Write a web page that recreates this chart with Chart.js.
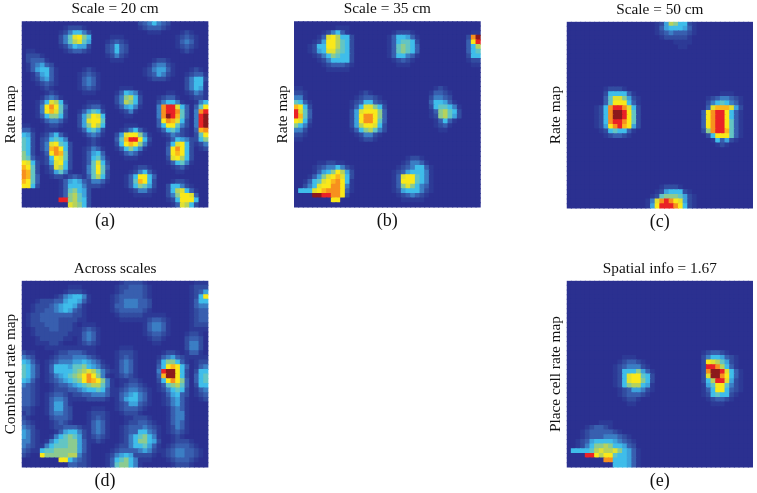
<!DOCTYPE html>
<html><head><meta charset="utf-8">
<script src="https://cdn.jsdelivr.net/npm/chart.js@4"></script>
<style>
html,body{margin:0;padding:0;background:#fff;overflow:hidden}
#wrap{position:relative;width:757px;height:493px;overflow:hidden}
canvas{position:absolute;filter:blur(0.7px)}
</style></head><body><div id="wrap"></div>
<script>
// Firing-rate levels 0..f, per patch: [first column, first row, rows of levels]
const levelColors = ["#2b3090","#2d3a96","#324ca0","#385faf","#3b7ec4","#3ca2dc","#3fbdea","#63c5c4","#8ccb90","#b6d25c","#e0e032","#f9e81a","#fbb61c","#f7901e","#ea2226","#8c1a1c"];
const panelTitles = ["Scale = 20 cm","Scale = 35 cm","Scale = 50 cm","Across scales","Spatial info = 1.67"];
const panelYLabels = ["Rate map","Rate map","Rate map","Combined rate map","Place cell rate map"];
const panelTags = ["(a)","(b)","(c)","(d)","(e)"];
const gridSize = 40;

const mapA = [
[8,1,["0122210","1246642","247ab86","2479a75","1246552","0123321"]],
[18,3,["01110","12321","23632","23632","12421","01110"]],
[25,0,["2346432","1233321","0011100"]],
[33,2,["01210","12321","13431","12321","01210"]],
[1,6,["1100000","2221000","2333100","1345320","1356631","0135631","0124531","0012321","0001210"]],
[12,10,["01210","12321","13431","13431","12321","01110"]],
[26,8,["0012210","0134421","1245531","1235421","0122210"]],
[35,10,["01210","12331","24662","24661","24651","12431","01210"]],
[3,15,["0012100","0134310","136a961","14bdb73","14bca72","1368862","0134431","0012210"]],
[19,14,["0011100","0136541","0248962","0249862","0135641","0012410","0001100"]],
[12,17,["001110","012331","135762","258ba6","25abb7","258b96","136752","013431","001210"]],
[28,15,["00011000","01233100","02466410","04deea63","04deed73","04dfec73","03bdca62","036bb742","01367521","00124310","00012100"]],
[36,16,["0121","0146","037b","04de","04ef","04ef","04ef","03cd","027b","0268","0124","0012"]],
[19,22,["000111000","001246310","025abb841","037ceeb62","026bcb841","013686410","001343100","000111000"]],
[3,23,["00111000","01246310","02367640","024ab762","024cdb62","013bdc72","0126ba72","0125ab62","0013a962","00125741","00012210"]],
[12,26,["0012100","0124310","0135630","0136741","0137a62","0147b73","0147b72","0137962","0124431","0012210"]],
[30,24,["0012210","0136542","026ab62","03bdb62","03bcb62","02ab962","0136741","0012310","0001100"]],
[0,22,["1100","3310","6520","7620","7620","7620","8620","8731","ba62","cb72","dc72","dc73","cb73","bb62"]],
[22,31,["0012210","0124631","136bb63","137cb62","1368752","0124421","0011110"]],
[8,33,["0123210","1356531","1366642","1378652","1389752","ee89762","00a9862"]],
[30,34,["00122100","02664210","0269a631","0248bba3","0126bbb6","0013a962"]]
];

const mapB = [
[3,1,["00000011100","00012463100","0013ab96620","0125bb97620","1266bb97620","1256aa87620","01246876620","00124666620","00012333210","00001111100"]],
[20,2,["0122210","1366531","1367762","1378763","1378763","1366431","0123210","0011100"]],
[37,2,["011","2df","3be","369","367","266","122","011"]],
[0,14,["1100","2210","4410","7631","cb62","ea73","ec73","ba62","8641","4420","2210","1100"]],
[11,15,["000121000","001233210","012366321","0136aa862","025abbb83","025bddb83","025bddb73","0259bba62","013689742","001244210","000122100"]],
[28,14,["00121000","01332100","02443200","03665310","02677641","01389762","01289752","00136310","00123100","00011000"]],
[1,30,["000011221100","000123446421","00013568b952","001358abca62","01367abcdb61","0246abbddb41","666abcdddb31","000ffeeddb20","0000000bb000"]],
[20,29,["0000122100","0001244310","0012346631","0123566641","013abb7641","013bbb7641","0138a86431","0125666421","0012343210","0001111100"]]
];

const mapC = [
[18,0,["0125986621","0135666531","0123433321","0012222210","0000011110","0000001100"]],
[5,14,["00012221000","00026666310","00037aa8521","00037bbb631","0126deeda62","0126dffeb72","0126dffeb72","0126deedb72","0125bdecb52","00126766310","00012332100"]],
[29,15,["000011100","012344321","024676431","03accca52","3bdeeb631","3bdeeb631","3bdeeb731","3bdeeb731","28deec731","026bbb731","001635210","000121000"]],
[16,35,["000012221000","000125666210","001278887521","014adedba521","015beeedb621"]]
];

const mapD = [
[19,0,["001222210","012233321","012333321","123333321","123444332","133444332","123333321","012222210","001111100"]],
[1,1,["00000000011100","00000000122210","00000012456641","00122233566531","01222345665310","01223345653210","12233333332210","12233332222110","12223332221000","01222332221000","01222222211000","00122222110000","00111221000000","00001110000000"]],
[36,0,["0111","1222","1235","126b","1366","1344","1233","1233","1233","1222","0111"]],
[26,7,["011110","123321","134431","134431","123321","012210","001100"]],
[12,9,["01110","12321","13431","13431","12321","01110"]],
[35,10,["0110","1221","2332","2442","2442","1331","0110"]],
[0,15,["2110","4320","6531","7642","7642","7642","6531","4321","3321","3321","3321","3321","2210","1210","1100"]],
[4,14,["0000111111000000","0001223332110000","0012333444321000","0123444556543100","0136665778654210","0136666789a97421","012456789bdb8410","012345678bdcb841","0012334567899741","0001223345667631","0000111223344431","0000000111222210"]],
[20,14,["01110","12221","12321","13431","13431","13431","12321","01110"]],
[28,15,["00122100","01345321","02688631","036bcb63","04effb62","03cffb62","026bdb83","01378973","01246762","00135632","00124531","00124531","00013431","00013441","00013441","00013431","00012431","00012321","00001210"]],
[36,16,["0011","0122","0134","0266","0367","0367","0266","0134","0123","0012"]],
[20,21,["00122100","01233210","12344321","13456431","13566431","12355321","12333210","01222100","00111000"]],
[4,23,["00122100","01233210","01344310","01355310","01355320","01344320","00233320","00123210","00122100"]],
[14,27,["01110","12221","12321","13431","13431","13431","12321","01210"]],
[21,29,["001222100","012233210","123334321","123366431","124678641","124688652","124667531","012345421","011222210","001111100"]],
[3,31,["000012333210","000013566421","000146787521","001467788531","014677788531","167788888531","0b8888899421","00000bb64321","000000033221"]],
[0,29,["2100","3210","4320","5421","5421","4421","4321","3210","2100"]],
[17,35,["000122210","001233321","012456521","013678641","013788641"]],
[30,34,["001222100","012333210","123443321","123443321","012333210","001222100"]]
];

const mapE = [
[9,16,["0001110000","0012332100","0123444210","0126668531","0126abb762","0126abb862","0126899651","0012355421","0012333210","0001221000","0000110000"]],
[28,15,["0123321000","0246653210","02ba975210","02eed96310","02dffea631","02affdb631","0269eea521","0157bb7421","0136bb6321","0126766210","0012332100","0001110000"]],
[1,30,["000000111000000","000123321000000","001233333210000","001233344432100","012356666543210","012468898665320","666679a99a86531","000eeb9bb766531","0000000dd666531","000000000666531"]]
];

const panelMaps = [mapA,mapB,mapC,mapD,mapE];
// canvas box and plot box (page pixels) of each panel
const boxes = [
 {x:0,  y:0,  w:214,h:232,left:21.7, top:20.7,wide:true},
 {x:270,y:0,  w:225,h:232,left:294,  top:20.7,wide:false},
 {x:540,y:0,  w:217,h:232,left:566.7,top:21.7,wide:false},
 {x:0,  y:258,w:214,h:235,left:21.7, top:280.7,wide:true},
 {x:540,y:258,w:217,h:235,left:566.7,top:280.7,wide:false}
];
const plotSize = 186.7;
const serif = "'Liberation Serif','Times New Roman',serif";
const titleSize = 15.3, tagSize = 18, yLabelSize = 15.3;

function cellsOf(patches){
  const grid = Array.from({length:gridSize},()=>new Array(gridSize).fill(0));
  patches.forEach(([c0,r0,rows])=>rows.forEach((s,r)=>[...s].forEach((ch,c)=>{
    const row=r0+r,col=c0+c;
    if(row<gridSize&&col<gridSize) grid[row][col]=Math.max(grid[row][col],parseInt(ch,16));
  })));
  const pts=[];
  grid.forEach((line,row)=>line.forEach((v,col)=>pts.push({x:col,y:row,v})));
  return pts;
}

const wrap=document.getElementById('wrap');
panelMaps.forEach((patches,i)=>{
  const b=boxes[i];
  const cv=document.createElement('canvas');
  cv.style.left=b.x+'px';cv.style.top=b.y+'px';cv.style.width=b.w+'px';cv.style.height=b.h+'px';
  cv.width=b.w;cv.height=b.h;
  wrap.appendChild(cv);
  const pts=cellsOf(patches);
  const titleLine=titleSize*1.2, tagLine=tagSize*1.2, yTitleW=20, gap=3;
  const topPad=Math.max(0,b.top-b.y-titleLine-gap);
  const botSpace=b.h-(b.top-b.y)-plotSize-tagLine-3;
  new Chart(cv,{
    type:'scatter',
    data:{datasets:[{
      data:pts,
      pointStyle:'rect',
      pointRadius:(plotSize/gridSize+1)/Math.SQRT2,
      pointBorderWidth:0,
      pointBackgroundColor:pts.map(p=>levelColors[p.v])
    }]},
    options:{
      responsive:false,animation:false,events:[],
      layout:{padding:{top:topPad,bottom:botSpace,left:b.left-b.x-yTitleW,right:b.w-(b.left-b.x)-plotSize}},
      plugins:{
        legend:{display:false},tooltip:{enabled:false},
        title:{display:true,text:panelTitles[i],fullSize:false,color:'#111',font:{family:serif,size:titleSize,weight:'normal'},padding:{top:0,bottom:gap}},
        subtitle:{display:true,text:panelTags[i],position:'bottom',fullSize:b.wide,color:'#111',font:{family:serif,size:tagSize,weight:'normal'},padding:{top:3,bottom:0}}
      },
      scales:{
        x:{display:false,min:-0.5,max:gridSize-0.5},
        y:{display:true,reverse:true,min:-0.5,max:gridSize-0.5,
           grid:{display:false,drawTicks:false},border:{display:false},
           ticks:{display:false},
           afterFit:s=>{s.width=yTitleW;},
           title:{display:true,text:panelYLabels[i],color:'#111',font:{family:serif,size:yLabelSize,weight:'normal'},padding:{top:0,bottom:0}}}
      }
    }
  });
});
</script></body></html>
